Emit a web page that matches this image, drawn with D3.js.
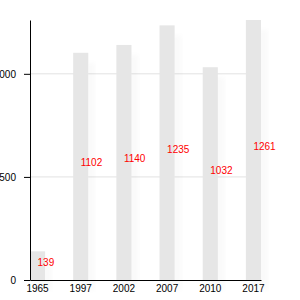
<!DOCTYPE html>
<html>
<head>
<meta charset="utf-8">
<script src="https://cdn.jsdelivr.net/npm/d3@7"></script>
<style>
  body { margin: 0; background: #fff; }
  svg text { font-family: "Liberation Sans", Arial, sans-serif; }
</style>
</head>
<body>
<div id="vis"></div>
<script>
// chart data
const years = ["1965", "1997", "2002", "2007", "2010", "2017"]
const counts = [139, 1102, 1140, 1235, 1032, 1261]
const yTicks = [0, 500, 1000]

const data = years.map((y, i) => ({year: y, value: counts[i]}))

const margin = {top: 20, right: 39, bottom: 20, left: 30}
const width = 300 - margin.left - margin.right
const height = 300 - margin.top - margin.bottom

const svg = d3.select("#vis").append("svg")
    .attr("width", 300)
    .attr("height", 300)

// very soft shadow behind the bars
const defs = svg.append("defs")
const shadow = defs.append("filter")
    .attr("id", "shadow")
    .attr("x", "-50%").attr("y", "-50%")
    .attr("width", "200%").attr("height", "200%")
shadow.append("feDropShadow")
    .attr("dx", 7).attr("dy", 10)
    .attr("stdDeviation", 2)
    .attr("flood-color", "#000")
    .attr("flood-opacity", 0.02)

const g = svg.append("g")
    .attr("transform", "translate(" + margin.left + "," + margin.top + ")")

const x = d3.scaleBand()
    .domain(years)
    .range([0, width])
    .paddingInner(0.65)
    .paddingOuter(0)

const y = d3.scaleLinear()
    .domain([0, d3.max(counts)])
    .range([height, 0])

// gridlines
g.append("g")
    .selectAll("line")
    .data(yTicks.filter(t => t > 0))
    .enter()
    .append("line")
    .attr("x1", 0)
    .attr("x2", width)
    .attr("y1", d => y(d))
    .attr("y2", d => y(d))
    .attr("stroke", "#e2e2e2")
    .attr("stroke-width", 1)

// bars
g.selectAll(".bar")
    .data(data)
    .enter()
    .append("rect")
    .attr("class", "bar")
    .attr("x", d => x(d.year))
    .attr("y", d => y(d.value))
    .attr("width", x.bandwidth())
    .attr("height", d => height - y(d.value))
    .attr("fill", "#e6e6e6")
    .attr("filter", "url(#shadow)")

// value labels, halfway up each bar
g.selectAll(".label")
    .data(data)
    .enter()
    .append("text")
    .attr("class", "label")
    .attr("x", d => x(d.year) + x.bandwidth() / 2)
    .attr("y", d => y(d.value / 2))
    .attr("fill", "#f00")
    .style("font-size", "10px")
    .text(d => d.value)

// x axis
const xAxis = g.append("g")
    .attr("transform", "translate(0," + height + ")")
    .call(d3.axisBottom(x).tickSize(0).tickPadding(5))
xAxis.selectAll("text").style("font-size", "10px").attr("fill", "#000")
xAxis.select(".domain").attr("stroke", "#000")

// y axis
const yAxis = g.append("g")
    .call(d3.axisLeft(y).tickValues(yTicks).tickSizeOuter(0).tickPadding(8))
yAxis.selectAll("text").style("font-size", "10px").attr("fill", "#000")
yAxis.select(".domain").attr("stroke", "#000")
</script>
</body>
</html>
